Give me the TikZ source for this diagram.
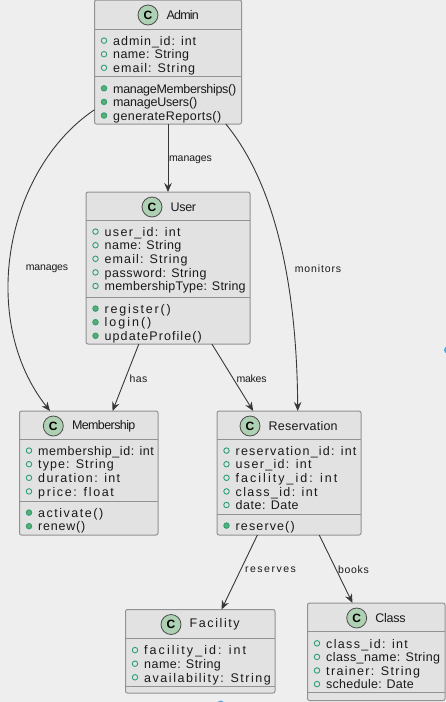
\documentclass[tikz,border=0pt]{standalone}
\usepackage{fontspec}
\setmainfont{Liberation Sans}
\usetikzlibrary{arrows.meta}
\definecolor{pagebg}{HTML}{EEEEEE}
\definecolor{boxfill}{HTML}{E2E2E2}
\definecolor{boxline}{HTML}{929292}
\definecolor{spotgreen}{HTML}{ADD1B2}
\definecolor{dotline}{HTML}{2E9E78}
\definecolor{dotfill}{HTML}{5BAE72}
\definecolor{edgeline}{HTML}{383838}
\definecolor{scrollblue}{HTML}{4FA8DC}
\tikzset{
  classbox/.style={draw=boxline,fill=boxfill,line width=1pt,rounded corners=2pt,inner sep=0pt,outer sep=0pt},
  classspot/.style={circle,draw=black!70,fill=spotgreen,line width=0.8pt,minimum size=20pt,inner sep=0pt,font=\fontsize{12}{14}\selectfont\bfseries},
  classtitle/.style={anchor=west,inner sep=0pt,text=black!90,font=\fontsize{12.5}{14}\selectfont},
  rowtext/.style={anchor=base west,inner sep=0pt,text=black!90,font=\fontsize{12.5}{14}\selectfont},
  attrdot/.style={circle,draw=dotline,line width=0.9pt,fill=boxfill,minimum size=5.5pt,inner sep=0pt},
  methdot/.style={circle,draw=dotline,line width=0.9pt,fill=dotfill,minimum size=5.5pt,inner sep=0pt},
  assoc/.style={draw=edgeline,line width=0.9pt,-{Stealth[length=9pt,width=7.5pt,inset=3pt]}},
  assoclabel/.style={inner sep=0pt,text=black!90,font=\fontsize{10.5}{12}\selectfont},
}
\newlength\fitA
\newlength\fitB
% letter spacing so that the text takes #2 pt
\newcommand\FitText[2]{%
  \settowidth\fitA{#1}%
  \settowidth\fitB{\addfontfeature{LetterSpace=10}#1}%
  \pgfmathsetmacro\fitS{10*(#2-\fitA)/(\fitB-\fitA)}%
  \addfontfeature{LetterSpace=\fitS}#1%
}
\newcommand\ClassBox[9]{
  \def\L{#2} \def\T{#3} \def\R{#4} \def\B{#5}
  \node[classbox,minimum width=\R pt-\L pt,minimum height=\B pt-\T pt] (#1) at ({(\L+\R)/2},{(\T+\B)/2}) {};
  \draw[boxline,line width=1pt] (\L,#6) -- (\R,#6);
  \draw[boxline,line width=1pt] (\L,#7) -- (\R,#7);
  \node[classspot] (#1-spot) at (#8,\T+15) {C};
  \node[classtitle] (#1-title) at (#8+18.5,\T+15) #9;
}
\newcommand\ClassRows[5]{
  \foreach \t/\w [count=\i] in {#4}
  {
    \node[#5] (#1-#5-dot\i) at (#2+9.5,#3+13.6*\i-2) {};
    \node[rowtext] (#1-#5-row\i) at (#2+18.5,#3+13.6*\i+2.7) {\FitText{\t}{\w}};
  }
}
\begin{document}
\begin{tikzpicture}[x=1pt, y=-1pt]
\useasboundingbox (0,0) rectangle (446,702);
\fill[pagebg] (0,0) rectangle (446,702);
\fill[scrollblue] (447.5,350) circle [radius=3.5];
\fill[scrollblue] (220.7,704) circle [radius=3.5];

\ClassBox{Admin}{94.5}{0}{241.5}{124}{29}{76.7}{148}{{\FitText{Admin}{32}}}
\ClassRows{Admin}{94.5}{29}{admin\_id: int/83,name: String/76,email: String/82}{attrdot}
\ClassRows{Admin}{94.5}{76.7}{manageMemberships()/123,manageUsers()/84,generateReports()/108}{methdot}

\ClassBox{User}{86}{192}{250}{344}{220}{297}{152}{{\FitText{User}{25.3}}}
\ClassRows{User}{86}{220}{user\_id: int/76,name: String/76.7,email: String/83,password: String/102,membershipType: String/141}{attrdot}
\ClassRows{User}{86}{297}{register()/66,login()/46.7,updateProfile()/97}{methdot}

\ClassBox{Membership}{19.5}{411}{158}{535}{439}{501}{53.3}{{\FitText{Membership}{63.4}}}
\ClassRows{Membership}{19.5}{439}{membership\_id: int/115.7,type: String/75.7,duration: int/82,price: float/75.7}{attrdot}
\ClassRows{Membership}{19.5}{501}{activate()/65,renew()/47}{methdot}

\ClassBox{Reservation}{217}{411}{361}{535}{439}{514}{250}{{\FitText{Reservation}{69}}}
\ClassRows{Reservation}{217}{439}{reservation\_id: int/120.7,user\_id: int/76,facility\_id: int/101.7,class\_id: int/82,date: Date/63}{attrdot}
\ClassRows{Reservation}{217}{514}{reserve()/59}{methdot}

\ClassBox{Facility}{125.5}{609.5}{275}{693}{638.5}{686.7}{171}{{\FitText{Facility}{50}}}
\ClassRows{Facility}{125.5}{638.5}{facility\_id: int/102,name: String/76.7,availability: String/126.7}{attrdot}

\ClassBox{Class}{307.5}{603}{445}{700.5}{631.7}{692.7}{356.7}{{\FitText{Class}{30.3}}}
\ClassRows{Class}{307.5}{631.7}{class\_id: int/81.7,class\_name: String/114,trainer: String/94,schedule: Date/87.7}{attrdot}

\draw[assoc] (Admin.-90) -- (User.90);
\node[assoclabel] (lb-manages-user) at (190.5,159.5) {\FitText{manages}{43}};
\draw[assoc] (Admin.213.1) .. controls (5,170) and (-22,320) .. (Membership.122);
\node[assoclabel] (lb-manages-mem) at (47,269) {\FitText{manages}{42.3}};
\draw[assoc] (Admin.-47.5) .. controls (280,190) and (297,300) .. (Reservation.82.6);
\node[assoclabel] (lb-monitors) at (318,269) {\FitText{monitors}{46.5}};
\draw[assoc] (User.249.8) -- (Membership.69.4);
\node[assoclabel] (lb-has) at (138.5,379) {\FitText{has}{18}};
\draw[assoc] (User.-60) -- (Reservation.120.8);
\node[assoclabel] (lb-makes) at (251.5,379) {\FitText{makes}{30}};
\draw[assoc] (Reservation.-117.3) -- (Facility.63.6);
\node[assoclabel] (lb-reserves) at (270.5,570) {\FitText{reserves}{51}};
\draw[assoc] (Reservation.-64.2) -- (Class.116.4);
\node[assoclabel] (lb-books) at (353.5,570) {\FitText{books}{31}};
\end{tikzpicture}
\end{document}
